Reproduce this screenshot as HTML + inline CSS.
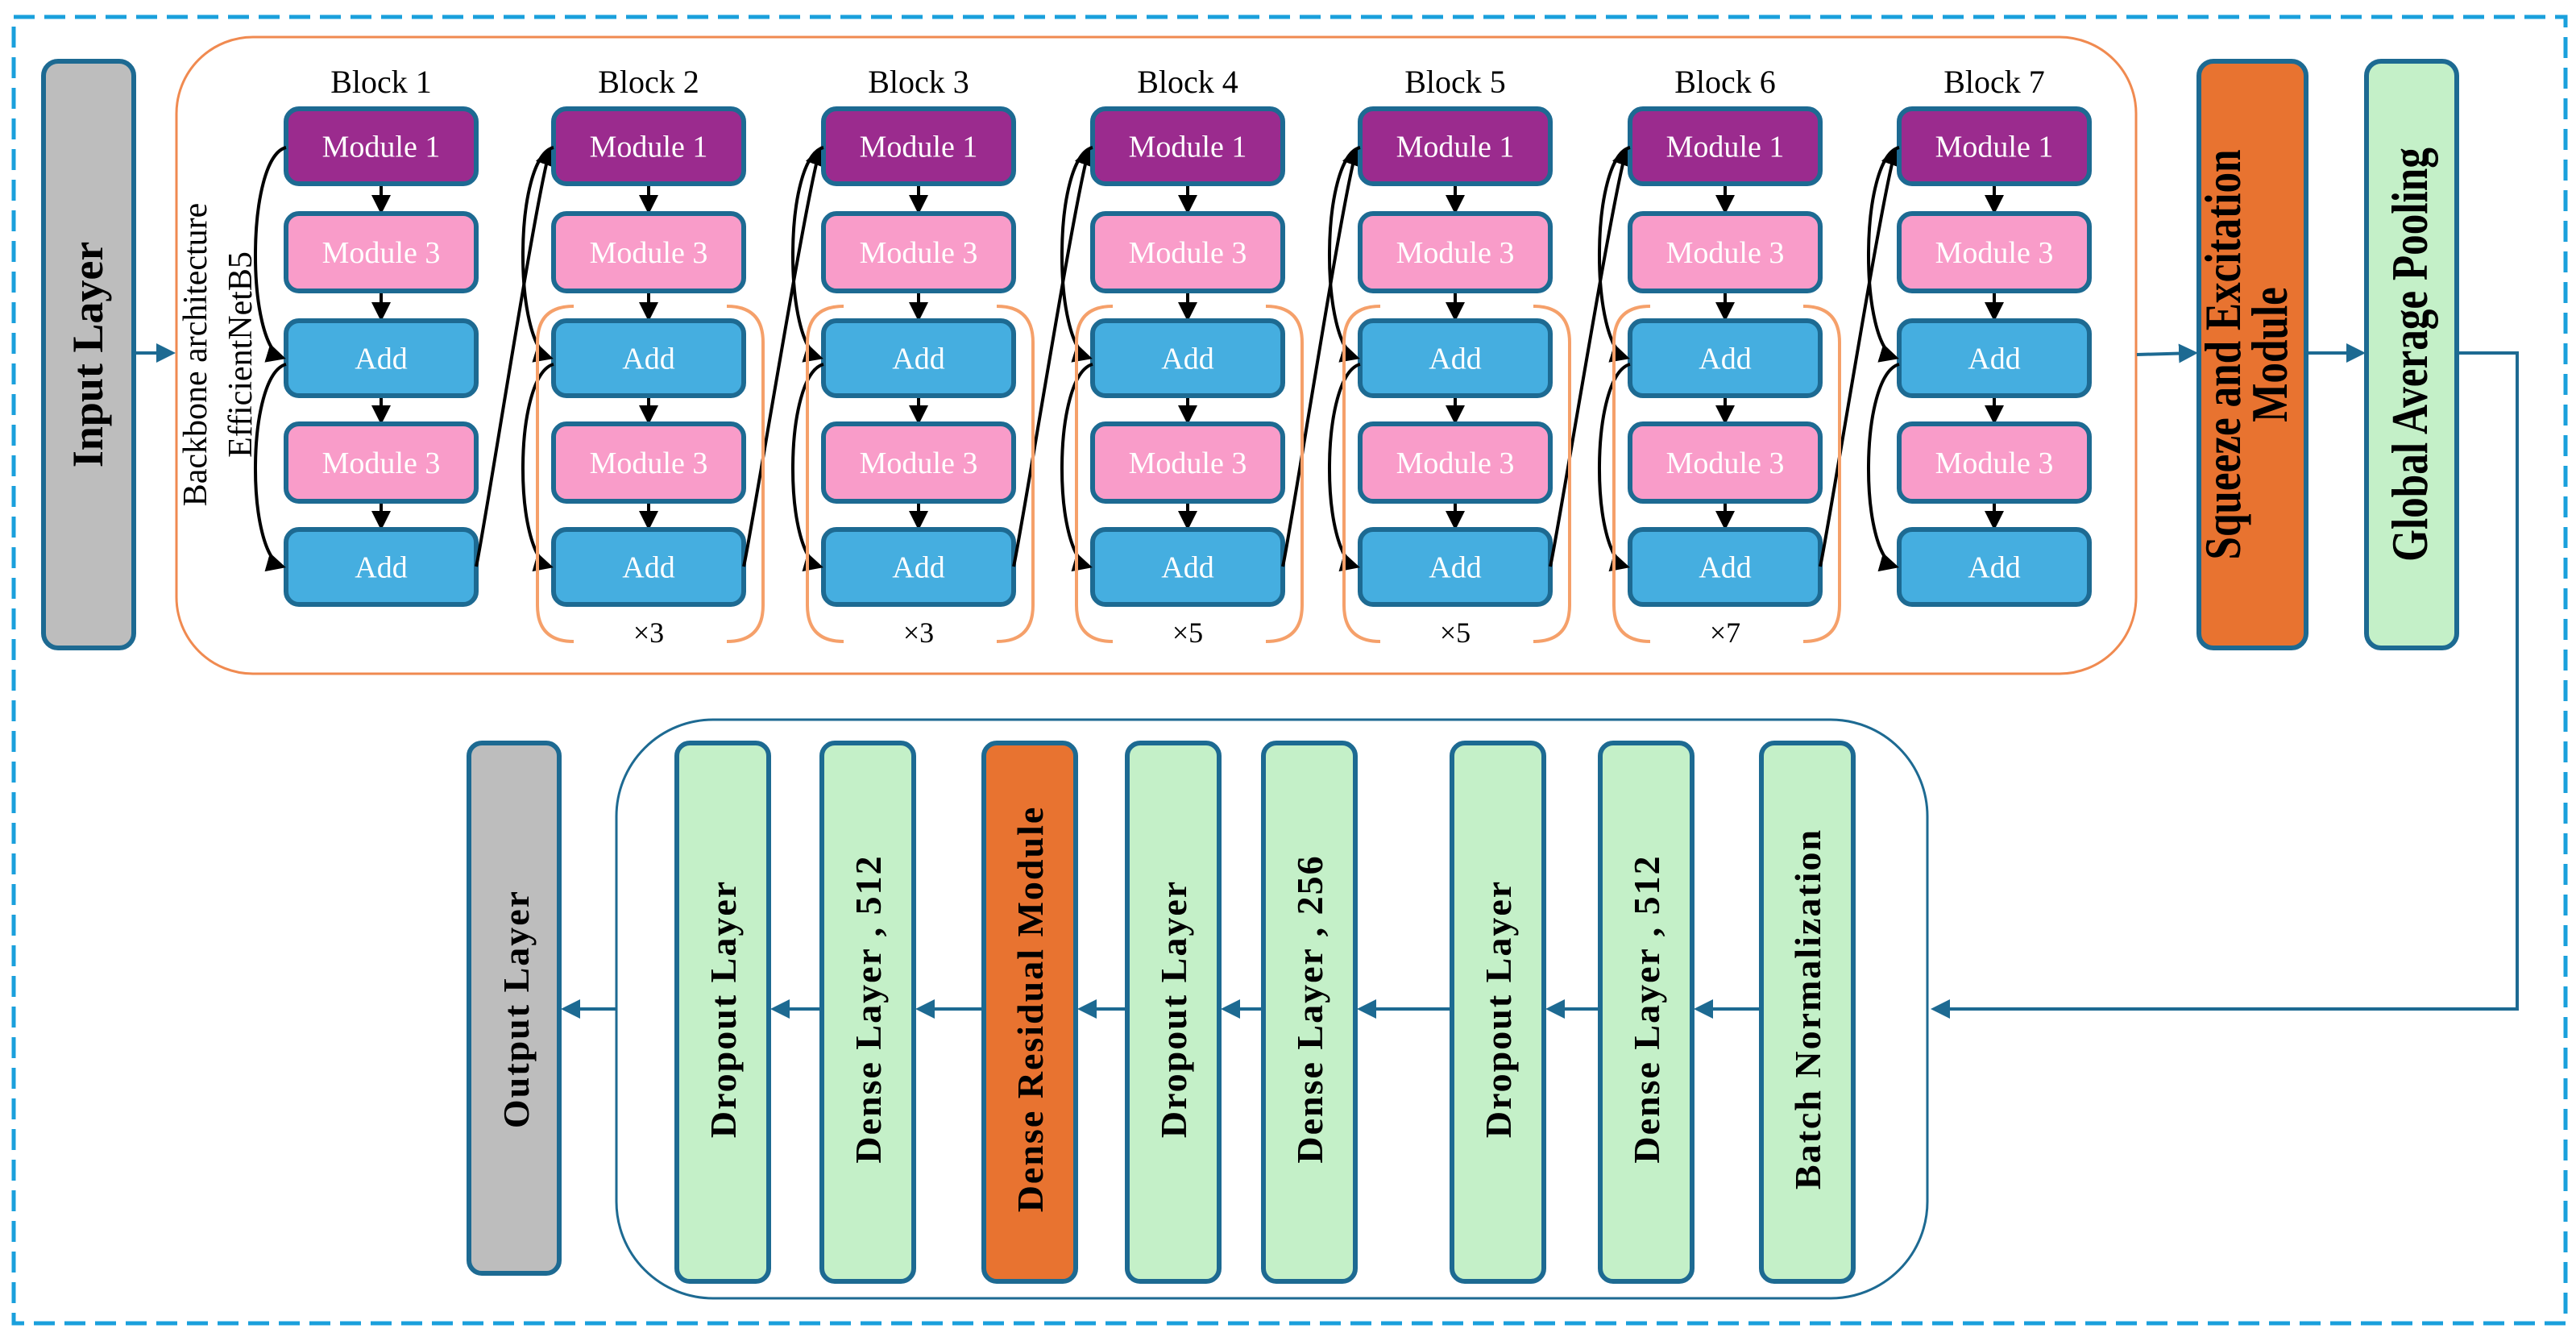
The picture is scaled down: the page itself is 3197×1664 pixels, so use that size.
<!DOCTYPE html>
<html><head><meta charset="utf-8"><style>
html,body{margin:0;padding:0;background:#fff;}
body{width:3197px;height:1659px;overflow:hidden;}
text{font-family:"Liberation Serif",serif;}
</style></head><body>
<svg width="3197" height="1659" viewBox="0 0 3197 1659" xmlns="http://www.w3.org/2000/svg">
<defs>
<marker id="ab" markerWidth="6" markerHeight="6" refX="5" refY="3" orient="auto" markerUnits="strokeWidth"><path d="M0,0 L6,3 L0,6 z" fill="#000"/></marker>
<marker id="abl" markerWidth="6" markerHeight="6" refX="5" refY="3" orient="auto" markerUnits="strokeWidth"><path d="M0,0 L6,3 L0,6 z" fill="#1d6a92"/></marker>
</defs>
<rect x="17" y="21" width="3167" height="1621" fill="none" stroke="#1aa0dc" stroke-width="5" stroke-dasharray="26,12"/>
<rect x="54" y="76" width="112" height="728" rx="18" fill="#bdbdbd" stroke="#1d6a92" stroke-width="6"/>
<text transform="translate(127,440) rotate(-90)" text-anchor="middle" font-size="54" font-weight="bold">Input Layer</text>
<line x1="168" y1="438" x2="214" y2="438" stroke="#1d6a92" stroke-width="4" marker-end="url(#abl)"/>
<rect x="219" y="46" width="2432" height="790" rx="95" fill="none" stroke="#f08a50" stroke-width="3"/>
<text transform="translate(256,440) rotate(-90)" text-anchor="middle" font-size="42">Backbone architecture</text>
<text transform="translate(312,440) rotate(-90)" text-anchor="middle" font-size="42">EfficientNetB5</text>
<g id="blocks"></g>
<line x1="2652" y1="440" x2="2724" y2="438" stroke="#1d6a92" stroke-width="4" marker-end="url(#abl)"/>
<rect x="2729" y="76" width="133" height="728" rx="18" fill="#e87330" stroke="#1d6a92" stroke-width="6"/>
<text transform="translate(2780,440) rotate(-90) scale(0.8,1)" text-anchor="middle" font-size="64" font-weight="bold">Squeeze and Excitation</text>
<text transform="translate(2838,440) rotate(-90) scale(0.8,1)" text-anchor="middle" font-size="64" font-weight="bold">Module</text>
<line x1="2864" y1="438" x2="2932" y2="438" stroke="#1d6a92" stroke-width="4" marker-end="url(#abl)"/>
<rect x="2937" y="76" width="112" height="728" rx="18" fill="#c4f0c8" stroke="#1d6a92" stroke-width="6"/>
<text transform="translate(3012,440) rotate(-90) scale(0.8,1)" text-anchor="middle" font-size="64" font-weight="bold">Global Average Pooling</text>
<polyline points="3050,438 3124,438 3124,1252 2400,1252" fill="none" stroke="#1d6a92" stroke-width="4" marker-end="url(#abl)"/>
<rect x="765" y="893" width="1627" height="718" rx="120" fill="none" stroke="#1d6a92" stroke-width="3"/>
<rect x="582" y="922" width="112" height="658" rx="16" fill="#bdbdbd" stroke="#1d6a92" stroke-width="6"/>
<text transform="translate(656,1252) rotate(-90)" text-anchor="middle" font-size="46" font-weight="bold" letter-spacing="2">Output Layer</text>
<line x1="765" y1="1252" x2="700" y2="1252" stroke="#1d6a92" stroke-width="4" marker-end="url(#abl)"/>
<g id="lower"></g>
</svg>
<script>
const NS="http://www.w3.org/2000/svg";
function el(p,tag,attrs,txt){const e=document.createElementNS(NS,tag);for(const k in attrs)e.setAttribute(k,attrs[k]);if(txt)e.textContent=txt;p.appendChild(e);return e;}
const B=document.getElementById('blocks');
const Ls=[355,687,1022,1356,1688,2023,2357],W=236;
const rows=[[135,228,'#9b2b8e','Module 1'],[265,361,'#f99cc9','Module 3'],[398,491,'#45aee0','Add'],[526,622,'#f99cc9','Module 3'],[657,750,'#45aee0','Add']];
const reps=[null,'×3','×3','×5','×5','×7',null];
Ls.forEach((L,i)=>{
 const cx=L+W/2;
 el(B,'text',{x:cx,y:115,'text-anchor':'middle','font-size':40},'Block '+(i+1));
 rows.forEach((r,j)=>{
  el(B,'rect',{x:L,y:r[0],width:W,height:r[1]-r[0],rx:16,fill:r[2],stroke:'#1d6a92','stroke-width':6});
  el(B,'text',{x:cx,y:(r[0]+r[1])/2+13,'text-anchor':'middle','font-size':38,fill:'#fff'},r[3]);
  if(j<4) el(B,'line',{x1:cx,y1:r[1]+3,x2:cx,y2:rows[j+1][0]-3,stroke:'#000','stroke-width':4,'marker-end':'url(#ab)'});
 });
 el(B,'path',{d:`M${L},183 C${L-50},195 ${L-50},430 ${L-4},444`,fill:'none',stroke:'#000','stroke-width':4,'marker-end':'url(#ab)'});
 el(B,'path',{d:`M${L},452 C${L-50},465 ${L-50},690 ${L-4},703`,fill:'none',stroke:'#000','stroke-width':4,'marker-end':'url(#ab)'});
 if(i<6){const R=L+W,N=Ls[i+1];
  el(B,'path',{d:`M${R},703 C${R+10},660 ${N-20},230 ${N-4},185`,fill:'none',stroke:'#000','stroke-width':4,'marker-end':'url(#ab)'});}
 if(reps[i]){
  const x1=L-20,x2=L+W+24,y1=380,y2=796;
  el(B,'path',{d:`M${x1+45},${y1} Q${x1},${y1} ${x1},${y1+45} V${y2-45} Q${x1},${y2} ${x1+45},${y2}`,fill:'none',stroke:'#f5a06a','stroke-width':4});
  el(B,'path',{d:`M${x2-45},${y1} Q${x2},${y1} ${x2},${y1+45} V${y2-45} Q${x2},${y2} ${x2-45},${y2}`,fill:'none',stroke:'#f5a06a','stroke-width':4});
  el(B,'text',{x:cx,y:797,'text-anchor':'middle','font-size':36,'font-family':'Liberation Sans'},reps[i]);
 }
});
const G=document.getElementById('lower');
const lw=[[840,'#c4f0c8','Dropout  Layer'],[1020,'#c4f0c8','Dense Layer , 512'],[1221,'#e87330','Dense Residual Module'],[1399,'#c4f0c8','Dropout  Layer'],[1568,'#c4f0c8','Dense Layer , 256'],[1802,'#c4f0c8','Dropout  Layer'],[1986,'#c4f0c8','Dense Layer , 512'],[2186,'#c4f0c8','Batch Normalization']];
lw.forEach((b,i)=>{
 el(G,'rect',{x:b[0],y:922,width:114,height:668,rx:16,fill:b[1],stroke:'#1d6a92','stroke-width':6});
 el(G,'text',{transform:`translate(${b[0]+73},1252) rotate(-90)`,'text-anchor':'middle','font-size':46,'font-weight':'bold','letter-spacing':2},b[2]);
 const prevRight = i>0 ? lw[i-1][0]+114 : null;
 if(i>0) el(G,'line',{x1:b[0],y1:1252,x2:prevRight+6,y2:1252,stroke:'#1d6a92','stroke-width':4,'marker-end':'url(#abl)'});
});
</script>
</body></html>
